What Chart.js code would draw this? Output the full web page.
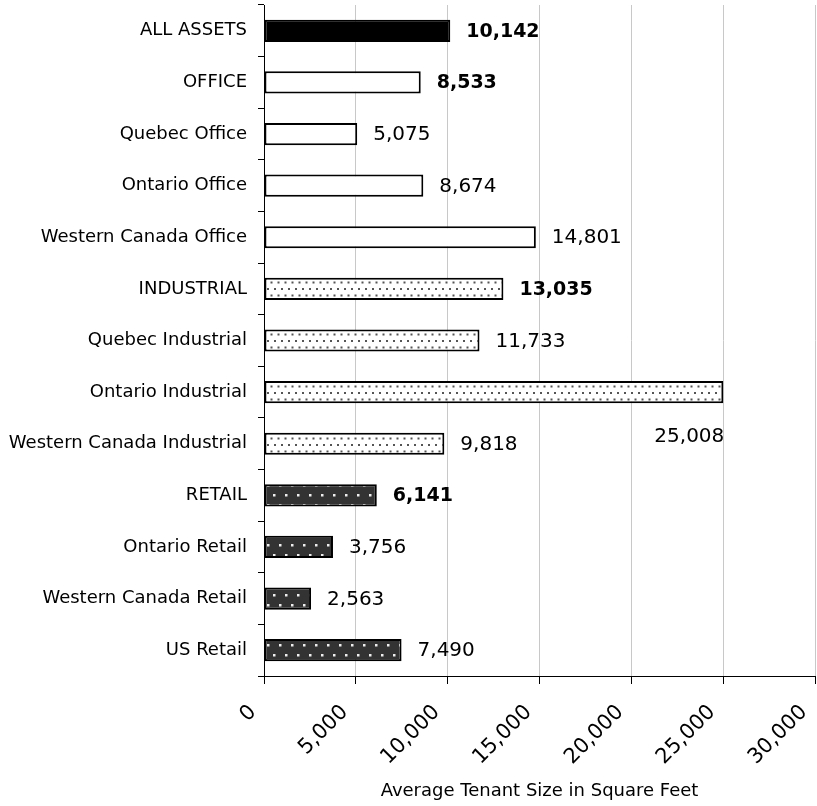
<!DOCTYPE html>
<html>
<head>
<meta charset="utf-8">
<script src="https://cdn.jsdelivr.net/npm/chart.js@4.4.1/dist/chart.umd.min.js"></script>
<style>
  body { margin: 0; background: #fff; }
  #wrap { width: 817px; height: 806px; }
</style>
</head>
<body>
<div id="wrap"><canvas id="tenant--canva"></canvas></div>
<script>
const categories = [
  "ALL ASSETS", "OFFICE", "Quebec Office", "Ontario Office", "Western Canada Office",
  "INDUSTRIAL", "Quebec Industrial", "Ontario Industrial", "Western Canada Industrial",
  "RETAIL", "Ontario Retail", "Western Canada Retail", "US Retail"
];
const tenantSize = [10142, 8533, 5075, 8674, 14801, 13035, 11733, 25008, 9818, 6141, 3756, 2563, 7490];
const segment = [
  "all", "office", "office", "office", "office",
  "industrial", "industrial", "industrial", "industrial",
  "retail", "retail", "retail", "retail"
];
const summaryRow = [true, true, false, false, false, true, false, false, false, true, false, false, false];
const xTicks = [0, 5000, 10000, 15000, 20000, 25000, 30000];
const axisTitle = "Average Tenant Size in Square Feet";

const FONT = "'DejaVu Sans', sans-serif";
Chart.defaults.font.family = FONT;
Chart.defaults.color = "#000";

// small tiles for the dotted fills
const makePattern = (w, h, bg, dot, dots, r) => {
  const c = document.createElement("canvas");
  c.width = w;
  c.height = h;
  const g = c.getContext("2d");
  g.fillStyle = bg;
  g.fillRect(0, 0, w, h);
  g.fillStyle = dot;
  dots.forEach(([x, y]) => g.fillRect(x, y, r, r));
  return g.createPattern(c, "repeat");
};

const ctx = document.querySelector("#tenant--canva").getContext("2d");
const industrialFill = makePattern(7, 13, "#fff", "#555", [[1, 2], [4.5, 8.5]], 2);
const retailFill = makePattern(12, 20, "#333", "#eee", [[3, 4], [9, 14]], 2.5);

const fills = { all: "#000", office: "#fff", industrial: industrialFill, retail: retailFill };
const fmt = (v) => v.toLocaleString("en-US");

const valueLabels = {
  id: "valueLabels",
  afterDatasetsDraw(chart) {
    const c = chart.ctx;
    const area = chart.chartArea;
    const meta = chart.getDatasetMeta(0);
    c.save();
    c.fillStyle = "#000";
    c.textBaseline = "middle";
    meta.data.forEach((bar, i) => {
      const text = fmt(tenantSize[i]);
      c.font = (summaryRow[i] ? "bold 19px " : "20px ") + FONT;
      const w = c.measureText(text).width;
      // too close to the right edge: put it under the bar end
      if (bar.x + 16 + w > area.right - 10) {
        c.textAlign = "right";
        c.fillText(text, bar.x + 1, bar.y + 45);
      } else {
        c.textAlign = "left";
        c.fillText(text, bar.x + 16, bar.y + 1);
      }
    });
    c.restore();
  },
};

new Chart(ctx, {
  type: "bar",
  data: {
    labels: categories,
    datasets: [
      {
        data: tenantSize,
        backgroundColor: segment.map((s) => fills[s]),
        borderColor: "#000",
        borderWidth: 2,
        borderSkipped: false,
        barPercentage: 0.43,
        categoryPercentage: 1,
      },
    ],
  },
  options: {
    indexAxis: "y",
    responsive: true,
    maintainAspectRatio: false,
    animation: false,
    layout: { padding: { top: 5, right: 2, bottom: 0, left: 0 } },
    plugins: {
      legend: { display: false },
      tooltip: { enabled: false },
    },
    scales: {
      x: {
        min: 0,
        max: 30000,
        afterBuildTicks: (scale) => {
          scale.ticks = xTicks.map((v) => ({ value: v }));
        },
        afterFit: (scale) => {
          scale.height = 130;
          scale.paddingRight = 0;
          scale.paddingLeft = 0;
        },
        ticks: {
          minRotation: 45,
          maxRotation: 45,
          padding: 16,
          labelOffset: -11,
          font: { size: 21 },
          color: "#000",
          callback: (v) => fmt(v),
        },
        grid: {
          color: "#c8c8c8",
          tickColor: "#000",
          tickLength: 8,
          lineWidth: 1,
        },
        border: { color: "#000", width: 1 },
        title: {
          display: true,
          text: axisTitle,
          font: { size: 18 },
          color: "#000",
          padding: { top: 4, bottom: 4 },
        },
      },
      y: {
        afterFit: (scale) => {
          scale.width = 264;
          scale.paddingTop = 0;
          scale.paddingBottom = 0;
        },
        ticks: {
          padding: 11,
          font: { size: 18 },
          color: "#000",
        },
        grid: {
          drawOnChartArea: false,
          offset: true,
          tickColor: "#000",
          tickLength: 6,
        },
        border: { color: "#000", width: 1 },
      },
    },
  },
  plugins: [valueLabels],
});
</script>
</body>
</html>
